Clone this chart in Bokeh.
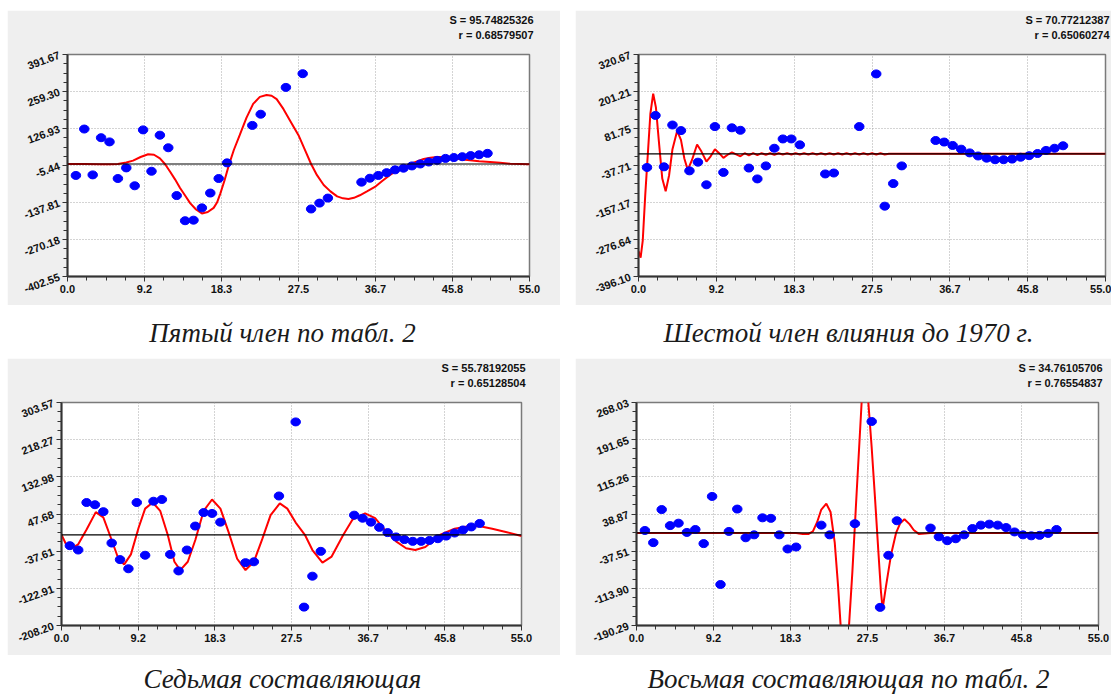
from bokeh.plotting import figure
from bokeh.models import Range1d, FixedTicker, Span, Title, Spacer, NumeralTickFormatter
from bokeh.core.properties import value
from bokeh.layouts import column, row
from bokeh.embed import file_html
from bokeh.resources import INLINE

# ---------------- data ----------------
YEARS = [1, 2, 3, 4, 5, 6, 7, 8, 9, 10, 11, 12, 13, 14, 15, 16, 17, 18, 19,
         22, 23, 26, 28, 29, 30, 31,
         35, 36, 37, 38, 39, 40, 41, 42, 43, 44, 45, 46, 47, 48, 49, 50]

X_TICKS = [0.0, 9.1667, 18.3333, 27.5, 36.6667, 45.8333, 55.0]

# Panel 1: "Пятый член по табл. 2"
Y_TICKS_1 = [-402.55, -270.18, -137.81, -5.44, 126.93, 259.30, 391.67]
DOTS_1 = [-41, 125, -39, 94, 79, -52, -14, -78, 122, -26, 103, 58, -113, -203, -201,
          -157, -104, -52, 4, 138, 178, 274, 323, -161, -140, -122,
          -65, -51, -41, -31, -21, -15, -7, 0, 7, 13, 20, 23, 26, 30, 33, 38]
CURVE_X_1 = [0, 2, 4, 5, 6, 7, 7.8, 8.7, 9.6, 10.3, 11.0, 11.6, 12.2, 12.8, 13.4, 14.0,
             14.6, 15.3, 16.0, 16.7, 17.4, 17.8, 18.2, 18.7, 19.2, 19.8, 20.5, 21.3,
             22.1, 22.9, 23.7, 24.3, 24.9, 25.7, 26.5, 27.5, 28.2, 29.0, 29.7, 30.5,
             31.3, 32.1, 32.8, 33.45, 34.1, 34.8, 35.7, 36.7, 37.5, 38.4, 39.2, 40.0,
             40.8, 41.6, 42.4, 43.2, 44.0, 44.9, 45.8, 46.8, 47.9, 49.0, 50.3, 51.5,
             52.7, 54.0, 55.0]
CURVE_Y_1 = [0, 0, -1, -1, 0, 5, 12, 25, 35, 33, 20, 0, -27, -55, -86, -113,
             -140, -163, -177, -172, -157, -138, -105, -58, -5, 50, 103, 165,
             215, 240, 247, 244, 232, 197, 155, 103, 55, 0, -40, -75,
             -98, -116, -123, -125, -121, -112, -97, -80, -60, -39, -24, -11,
             0, 9, 18, 22, 25, 25, 22, 17, 13, 10, 7, 4,
             1, 0, -1]

# Panel 2: "Шестой член влияния до 1970 г."
Y_TICKS_2 = [-396.10, -276.64, -157.17, -37.71, 81.75, 201.21, 320.67]
DOTS_2 = [-44, 124, -42, 93, 75, -55, -27, -100, 88, -60, 84, 76, -46, -81, -39,
          18, 48, 48, 29, -65, -62, 88, 258, -169, -96, -39,
          43, 38, 27, 15, 3, -7, -14, -19, -19, -17, -11, -6, 1, 11, 18, 26]
CURVE_X_2 = [0, 0.25, 0.5, 0.8, 1.1, 1.4, 1.73, 2.05, 2.4, 2.8, 3.2, 3.6, 4.0, 4.55,
             5.0, 5.4, 5.8, 6.3, 6.9, 7.4, 8.0, 8.5, 9.0, 9.5, 10.0, 10.5, 11.0, 11.5,
             12.0, 12.5, 13.0, 13.5, 14.0, 14.5, 15.0, 15.5, 16.0, 16.5, 17.0, 17.5,
             18.0, 18.5, 19.0, 19.5, 20.0, 20.5, 21.0, 21.5, 22.0, 22.5, 23.0, 23.5,
             24.0, 24.5, 25.0, 25.5, 26.0, 26.5, 27.0, 27.5, 28.0, 28.5, 29.0, 29.5,
             55.0]
CURVE_Y_2 = [-314, -335, -280, -130, 0, 130, 194, 150, 40, -80, -121, -70, 15, 74,
             45, -15, -52, -20, 30, 8, -25, -8, 15, 2, -13, -3, 5, -2,
             -8, 2, -5, 2, -4, 2, -3, 2, -3, 2, -2, 2,
             -2, 2, -2, 2, -2, 2, -2, 2, -2, 2, -2, 2,
             -2, 2, -2, 2, -2, 2, -2, 2, -2, 2, -2, 0,
             0]

# Panel 3: "Седьмая составляющая"
Y_TICKS_3 = [-208.20, -122.91, -37.61, 47.68, 132.98, 218.27, 303.57]
DOTS_3 = [-25, -35, 74, 69, 53, -19, -57, -78, 74, -47, 77, 81, -45, -83, -35,
          20, 51, 49, 29, -64, -62, 89, 259, -166, -95, -38,
          45, 38, 29, 17, 5, -5, -11, -15, -15, -13, -9, -3, 4, 11, 18, 26]
CURVE_X_3 = [0, 0.5, 1.2, 2.0, 3.0, 4.1, 5.0, 6.0, 6.8, 7.5, 8.3, 9.2, 10.0, 10.9,
             11.8, 12.7, 13.5, 14.2, 15.1, 16.0, 17.0, 18.0, 19.0, 20.0, 21.0, 22.0,
             23.0, 24.0, 25.0, 26.1, 27.0, 28.0, 29.1, 30.0, 31.2, 32.3, 33.7, 34.8,
             36.3, 37.5, 38.7, 40.0, 41.2, 42.3, 43.5, 45.3, 47.0, 48.5, 49.9, 51.5,
             53.0, 55.0]
CURVE_Y_3 = [0, -20, -31, -22, 12, 52, 40, -12, -55, -68, -45, 15, 60, 74,
             55, 0, -62, -81, -62, -12, 55, 81, 60, 5, -55, -81,
             -62, -10, 45, 72, 60, 28, 0, -35, -64, -50, 0, 35,
             49, 38, 10, -15, -31, -35, -28, 0, 14, 19, 20, 14,
             7, -3]

# Panel 4: "Восьмая составляющая по табл. 2"
Y_TICKS_4 = [-190.29, -113.90, -37.51, 38.87, 115.26, 191.65, 268.03]
DOTS_4 = [5, -20, 48, 15, 20, 1, 7, -22, 75, -106, 3, 49, -10, -4, 31,
          30, -4, -33, -29, 16, -4, 19, 229, -153, -46, 25,
          10, -8, -16, -12, -4, 9, 16, 18, 16, 11, 2, -4, -6, -5, -1, 7]
CURVE_X_4 = [0, 5, 10, 15, 19, 19.8, 20.5, 21.0, 21.5, 22.0, 22.6, 23.1, 23.6, 24.0,
             24.3, 24.85, 25.3, 25.7, 26.2, 26.8, 27.2, 27.6, 28.0, 28.4, 28.8, 29.1,
             29.3, 29.7, 30.3, 30.9, 31.4, 31.9, 32.5, 33.0, 33.6, 34.3, 35.0, 55.0]
CURVE_Y_4 = [0, 0, 0, 0, 0, -2, -2, 3, 22, 48, 60, 43, -20, -110,
             -190, -300, -190, -80, 80, 268, 350, 268, 175, 70, -40, -120,
             -156, -110, -45, 0, 20, 28, 18, 6, -2, -1, 0, 0]

STATS = [("S = 95.74825326", "r = 0.68579507"),
         ("S = 70.77212387", "r = 0.65060274"),
         ("S = 55.78192055", "r = 0.65128504"),
         ("S = 34.76105706", "r = 0.76554837")]

CAPTIONS_TOP = ["Пятый член по табл. 2", "Шестой член влияния до 1970 г."]
CAPTIONS_BOTTOM = ["Седьмая составляющая", "Восьмая составляющая по табл. 2"]

FONT = "Liberation Sans"


def minor_of(ticks, n=4):
    out = []
    for a, b in zip(ticks[:-1], ticks[1:]):
        for k in range(1, n):
            out.append(a + (b - a) * k / n)
    return out


def make_panel(yticks, dots, cx, cy, stats, w, h, bl, br, bt, bb):
    p = figure(width=w, height=h, output_backend="svg", toolbar_location=None,
               x_range=Range1d(0, 55), y_range=Range1d(yticks[0], yticks[-1]),
               min_border_left=bl, min_border_right=br, min_border_top=bt,
               min_border_bottom=bb, background_fill_color="white",
               border_fill_color="#efefef", outline_line_color="#7a7a7a",
               outline_line_width=1.5)
    # upper stat line (S) is the figure title, the r line is stacked below it
    p.title.text = stats[0]
    p.title.align = "right"
    p.title.offset = -4
    p.title.text_font = FONT
    p.title.text_font_size = "11px"
    p.title.text_font_style = "bold"
    p.title.text_color = "#111111"
    p.title.standoff = 2
    r_title = Title(text=stats[1], align="right", offset=-4, text_font=FONT,
                    text_font_size="11px", text_font_style="bold",
                    text_color="#111111", standoff=1)
    gap = Title(text=" ", align="right", text_font=FONT, text_font_size="10px",
                standoff=0)
    # first element of `above` sits next to the frame: blank gap, then r, then S
    p.above = [gap, r_title] + list(p.above)

    p.xaxis.ticker = FixedTicker(ticks=X_TICKS, minor_ticks=minor_of(X_TICKS))
    p.yaxis.ticker = FixedTicker(ticks=yticks, minor_ticks=minor_of(yticks))
    p.xaxis.formatter = NumeralTickFormatter(format="0.0")
    p.yaxis.formatter = NumeralTickFormatter(format="0.00")
    for ax in (p.xaxis[0], p.yaxis[0]):
        ax.major_label_text_font = FONT
        ax.major_label_text_font_size = "11px"
        ax.major_label_text_font_style = "bold"
        ax.major_label_text_color = "#111111"
        ax.axis_line_color = "#333333"
        ax.axis_line_width = 2
        ax.major_tick_line_color = "#333333"
        ax.minor_tick_line_color = "#333333"
        ax.major_tick_in = 0
        ax.major_tick_out = 5
        ax.minor_tick_in = 0
        ax.minor_tick_out = 4
        ax.major_label_standoff = 3
    p.yaxis.major_label_orientation = 0.35

    for g in (p.xgrid[0], p.ygrid[0]):
        g.grid_line_color = "#a8a8a8"
        g.grid_line_dash = "1 2"
        g.grid_line_width = 1

    p.add_layout(Span(location=0, dimension="width", line_color="black", line_width=1.2))
    p.line(cx, cy, line_color="#ff0000", line_width=2)
    p.ellipse(YEARS, dots, width=9.5, height=8, width_units="screen",
              height_units="screen", fill_color="#0000ff", line_color="#0000ff")
    return p


p1 = make_panel(Y_TICKS_1, DOTS_1, CURVE_X_1, CURVE_Y_1, STATS[0], 553, 295, 60, 31, 42, 29)
p2 = make_panel(Y_TICKS_2, DOTS_2, CURVE_X_2, CURVE_Y_2, STATS[1], 536, 295, 63, 6, 43, 26)
p3 = make_panel(Y_TICKS_3, DOTS_3, CURVE_X_3, CURVE_Y_3, STATS[2], 553, 297, 54, 39, 44, 29)
p4 = make_panel(Y_TICKS_4, DOTS_4, CURVE_X_4, CURVE_Y_4, STATS[3], 536, 297, 61, 13, 41, 30)


def caption_strip(texts, h, ymid):
    c = figure(width=1104, height=h, output_backend="svg", toolbar_location=None,
               x_range=Range1d(0, 1104), y_range=Range1d(0, h),
               x_axis_type=None, y_axis_type=None, min_border=0,
               outline_line_color=None, background_fill_color="white",
               border_fill_color="white")
    c.grid.visible = False
    c.text(x=[275, 841], y=[ymid, ymid], text=texts,
           text_font=value("Liberation Serif"), text_font_style="italic",
           text_font_size="27px", text_align="center", text_baseline="middle",
           text_color="#1a1a1a")
    return c


cap_top = caption_strip(CAPTIONS_TOP, 53, 26)
cap_bot = caption_strip(CAPTIONS_BOTTOM, 40, 17)

layout = column(row(p1, Spacer(width=15), p2), cap_top,
                row(p3, Spacer(width=15), p4), cap_bot)
layout.styles = {"position": "absolute", "left": "7px", "top": "10px"}

open("out.html", "w").write(file_html(layout, INLINE))
